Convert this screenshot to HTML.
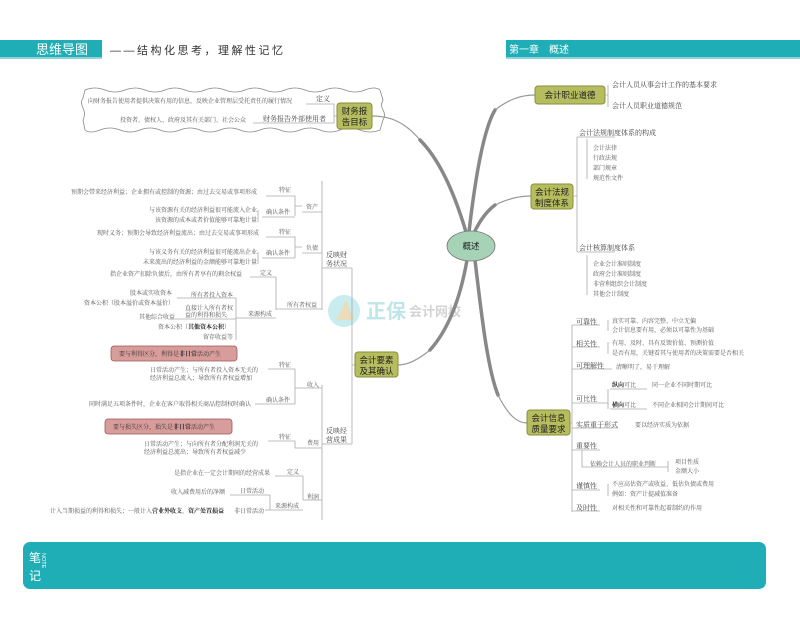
<!DOCTYPE html>
<html><head><meta charset="utf-8"><style>
html,body{margin:0;padding:0;background:#fff;}
svg{display:block;font-family:"Liberation Serif","Noto Serif CJK SC",serif;}
.s{font-size:6px;fill:#555;}
.m{font-size:7px;fill:#444;}
.h{font-family:"Liberation Sans","Noto Sans CJK SC",sans-serif;font-size:8.5px;fill:#222;}
.l{stroke:#aaa;stroke-width:0.8;fill:none;}
.b{fill:#b6bd5e;stroke:#8a8f3c;stroke-width:1;}
.br{stroke:#888;stroke-width:3.5;fill:none;stroke-linecap:round;}
.bt{stroke:#999;stroke-width:1.2;fill:none;}
</style></head><body>
<svg width="800" height="617" viewBox="0 0 800 617" xmlns="http://www.w3.org/2000/svg">
<!-- headers -->
<rect x="0" y="40" width="102" height="18" fill="#20aeb6"/>
<rect x="0" y="57" width="102" height="2" fill="#8fd3d6"/>
<text x="36" y="54" style="font-family:'Liberation Sans','Noto Sans CJK SC',sans-serif;font-size:13px;fill:#fff">思维导图</text>
<text x="110" y="54" style="font-family:'Liberation Sans','Noto Sans CJK SC',sans-serif;font-size:11px;fill:#333;letter-spacing:2.5px">——结构化思考，理解性记忆</text>
<rect x="506" y="40" width="294" height="18" fill="#20aeb6"/>
<rect x="506" y="57" width="294" height="2" fill="#8fd3d6"/>
<text x="509" y="53" style="font-family:'Liberation Sans','Noto Sans CJK SC',sans-serif;font-size:10px;fill:#fff">第一章　概述</text>

<!-- watermark -->
<circle cx="344" cy="311" r="16" fill="#c9ecee"/>
<path d="M336 320 L346 300 L354 320 Z" fill="#f3d9b0" opacity="0.8"/>
<text x="366" y="318" style="font-family:'Liberation Sans','Noto Sans CJK SC',sans-serif;font-size:20px;font-weight:bold;fill:#bfe6e8">正保</text>
<text x="409" y="316" style="font-family:'Liberation Sans','Noto Sans CJK SC',sans-serif;font-size:13px;font-weight:bold;fill:#d4d4d4">会计网校</text>

<!-- branches from center (tapered: thick part near center, thin near node) -->
<path class="bt" d="M420 140 C405 122 390 116 372 116"/>
<path class="br" d="M466 232 C455 195 440 160 420 140"/>
<path class="bt" d="M495 110 C508 100 520 95 535 95"/>
<path class="br" d="M469 232 C475 180 483 130 495 110"/>
<path class="bt" d="M495 205 C510 198 520 196 531 196"/>
<path class="br" d="M474 233 C480 220 487 211 495 205"/>
<path class="bt" d="M430 350 C418 360 408 365 398 365"/>
<path class="br" d="M467 260 C460 300 448 330 430 350"/>
<path class="bt" d="M498 395 C508 415 517 423 527 423"/>
<path class="br" d="M475 260 C482 320 488 370 498 395"/>
<ellipse cx="471" cy="246" rx="24" ry="15" fill="#a6d3b6" stroke="#777" stroke-width="0.8"/>
<text x="471" y="249" text-anchor="middle" class="h">概述</text>

<!-- wavy box -->
<path d="M85 90 q10 -4 20 0 t20 0 t20 0 t20 0 t20 0 t20 0 t20 0 t20 0 t20 0 t20 0 t20 0 t20 0 t20 0 t20 0 t15 0 l3 10 q-3 5 0 10 t0 10 l-3 10 q-10 4 -20 0 t-20 0 t-20 0 t-20 0 t-20 0 t-20 0 t-20 0 t-20 0 t-20 0 t-20 0 t-20 0 t-20 0 t-20 0 t-20 0 t-15 0 l-2 -10 q3 -6 0 -12 t0 -10 z" fill="none" stroke="#888" stroke-width="0.8"/>
<text x="88" y="103" class="s">向财务报告使用者提供决策有用的信息，反映企业管理层受托责任的履行情况</text>
<text x="316" y="101" class="m">定义</text>
<text x="120" y="122" class="s">投资者、债权人、政府及其有关部门、社会公众</text>
<text x="263" y="121" class="m">财务报告外部使用者</text>
<path class="l" d="M306 104 H334 V116 M253 123 H334 V116 M334 116 H337"/>
<rect class="b" x="337" y="103" width="35" height="26" rx="3"/>
<text x="354.5" y="114" text-anchor="middle" class="h">财务报</text>
<text x="354.5" y="125" text-anchor="middle" class="h">告目标</text>

<!-- assets -->
<text x="71" y="194" class="s">预期会带来经济利益；企业拥有或控制的资源；由过去交易或事项形成</text>
<text x="279" y="192" class="s">特征</text>
<text x="257" y="212" text-anchor="end" class="s">与该资源有关的经济利益很可能流入企业</text>
<text x="257" y="222" text-anchor="end" class="s">该资源的成本或者价值能够可靠地计量</text>
<text x="266" y="214" class="s">确认条件</text>
<text x="306" y="209" class="s">资产</text>
<text x="97" y="235" class="s">现时义务；预期会导致经济利益流出；由过去交易或事项形成</text>
<text x="279" y="234" class="s">特征</text>
<text x="257" y="254" text-anchor="end" class="s">与该义务有关的经济利益很可能流出企业</text>
<text x="257" y="264" text-anchor="end" class="s">未来流出的经济利益的金额能够可靠地计量</text>
<text x="266" y="255" class="s">确认条件</text>
<text x="306" y="250" class="s">负债</text>
<text x="326" y="257" class="m">反映财</text>
<text x="326" y="266" class="m">务状况</text>
<path class="l" d="M266 196 H295 V216 M262 217 H295 M295 206 H302 M302 212 H322 M266 237 H295 V258 M262 258 H295 M295 247 H302 M302 253 H322 M322 181 V310 M322 268 H352"/>
<path class="l" d="M258 210 v12 M258 252 v12"/>

<!-- equity -->
<text x="110" y="276" class="s">指企业资产扣除负债后，由所有者享有的剩余权益</text>
<text x="260" y="275" class="s">定义</text>
<text x="130" y="295" class="s">股本或实收资本</text>
<text x="191" y="297" class="s">所有者投入资本</text>
<text x="84" y="305" class="s">资本公积（股本溢价或资本溢价）</text>
<text x="185" y="310" class="s">直接计入所有者权</text>
<text x="185" y="317" class="s">益的利得和损失</text>
<text x="139" y="319" class="s">其他综合收益</text>
<text x="248" y="316" class="s">来源构成</text>
<text x="287" y="307" class="s">所有者权益</text>
<text x="158" y="329" class="s">资本公积（<tspan font-weight="bold" fill="#222">其他资本公积</tspan>）</text>
<text x="203" y="339" class="s">留存收益等</text>
<path class="l" d="M250 277 H276 V310 M245 318 H276 M276 309 H322 M177 298 H236 V340 M175 319 H236 M236 318 H245"/>

<!-- callouts -->
<rect x="111" y="346" width="126" height="15" rx="3" fill="#d89c9a" stroke="#9a5a58" stroke-width="0.8"/>
<text x="119" y="356" class="s" style="fill:#333">要与利得区分，利得是<tspan font-weight="bold">非日常</tspan>活动产生</text>
<rect x="105" y="419" width="127" height="15" rx="3" fill="#d89c9a" stroke="#9a5a58" stroke-width="0.8"/>
<text x="113" y="429" class="s" style="fill:#333">要与损失区分，损失是<tspan font-weight="bold">非日常</tspan>活动产生</text>

<!-- income -->
<text x="150" y="372" class="s">日常活动产生；与所有者投入资本无关的</text>
<text x="150" y="380" class="s">经济利益总流入；导致所有者权益增加</text>
<text x="279" y="367" class="s">特征</text>
<text x="307" y="387" class="s">收入</text>
<text x="89" y="406" class="s">同时满足五项条件时，企业在客户取得相关商品控制权时确认</text>
<text x="266" y="402" class="s">确认条件</text>
<text x="144" y="446" class="s">日常活动产生；与向所有者分配利润无关的</text>
<text x="144" y="454" class="s">经济利益总流出；导致所有者权益减少</text>
<text x="279" y="439" class="s">特征</text>
<text x="307" y="445" class="s">费用</text>
<text x="326" y="433" class="m">反映经</text>
<text x="326" y="442" class="m">营成果</text>
<text x="174" y="475" class="s">是指企业在一定会计期间的经营成果</text>
<text x="287" y="474" class="s">定义</text>
<text x="171" y="494" class="s">收入减费用后的净额</text>
<text x="240" y="493" class="s">日常活动</text>
<text x="307" y="499" class="s">利润</text>
<text x="275" y="508" class="s">来源构成</text>
<text x="50" y="513" class="s">计入当期损益的利得和损失；一般计入<tspan font-weight="bold" fill="#222">营业外收支</tspan>，<tspan font-weight="bold" fill="#222">资产处置损益</tspan></text>
<text x="234" y="513" class="s">非日常活动</text>
<path class="l" d="M268 369 H295 V404 M255 404 H295 M295 388 H322 M268 441 H295 V448 H322 M275 476 H303 V500 M265 510 H303 M303 500 H322 M230 495 H270 V510 M322 385 V520 M322 444 H352 M352 268 V444 M352 365 H355"/>

<rect class="b" x="355" y="352" width="43" height="25" rx="3"/>
<text x="376.5" y="363" text-anchor="middle" class="h">会计要素</text>
<text x="376.5" y="374" text-anchor="middle" class="h">及其确认</text>

<!-- right: ethics -->
<rect class="b" x="535" y="86" width="70" height="18" rx="3"/>
<text x="570" y="98" text-anchor="middle" class="h">会计职业道德</text>
<path class="l" d="M605 95 H608 M608 85 V107"/>
<text x="612" y="87" class="m">会计人员从事会计工作的基本要求</text>
<text x="612" y="108" class="m">会计人员职业道德规范</text>

<!-- regulations -->
<rect class="b" x="531" y="184" width="42" height="25" rx="3"/>
<text x="552" y="195" text-anchor="middle" class="h">会计法规</text>
<text x="552" y="206" text-anchor="middle" class="h">制度体系</text>
<path class="l" d="M573 196 H577 M577 137 V252 M577 137 H615 M577 252 H615 M587 139 V179 M587 255 V295"/>
<text x="579" y="135" class="m">会计法规制度体系的构成</text>
<text x="593" y="150" class="s">会计法律</text>
<text x="593" y="160" class="s">行政法规</text>
<text x="593" y="170" class="s">部门规章</text>
<text x="593" y="180" class="s">规范性文件</text>
<text x="579" y="250" class="m">会计核算制度体系</text>
<text x="593" y="266" class="s">企业会计准则制度</text>
<text x="593" y="276" class="s">政府会计准则制度</text>
<text x="593" y="286" class="s">非营利组织会计制度</text>
<text x="593" y="296" class="s">其他会计制度</text>

<!-- quality -->
<rect class="b" x="527" y="410" width="43" height="25" rx="3"/>
<text x="548.5" y="421" text-anchor="middle" class="h">会计信息</text>
<text x="548.5" y="432" text-anchor="middle" class="h">质量要求</text>
<path class="l" d="M570 423 H572 M572 325 V512 M572 325 H600 M572 347 H600 M572 369 H612 M572 403 H600 M600 403 H608 M572 428 H618 M572 450 H600 M572 490 H600 M572 511 H600 M608 320 V331 M608 342 V354 M610 389 H647 M610 409 H647 M608 389 V409 M582 450 V467 H668 M668 461 V472 M608 484 V496"/>
<text x="576" y="324" class="m">可靠性</text>
<text x="612" y="323" class="s">真实可靠、内容完整、中立无偏</text>
<text x="612" y="332" class="s">会计信息要有用，必须以可靠性为基础</text>
<text x="576" y="346" class="m">相关性</text>
<text x="612" y="345" class="s">有用、及时、具有反馈价值、预测价值</text>
<text x="612" y="355" class="s">是否有用，关键看其与使用者的决策需要是否相关</text>
<text x="576" y="368" class="m">可理解性</text>
<text x="616" y="369" class="s">清晰明了，易于理解</text>
<text x="612" y="387" class="s"><tspan font-weight="bold" fill="#222">纵向</tspan>可比</text>
<text x="652" y="387" class="s">同一企业不同时期可比</text>
<text x="612" y="407" class="s"><tspan font-weight="bold" fill="#222">横向</tspan>可比</text>
<text x="652" y="407" class="s">不同企业相同会计期间可比</text>
<text x="576" y="401" class="m">可比性</text>
<text x="576" y="427" class="m">实质重于形式</text>
<text x="635" y="427" class="s">要以经济实质为依据</text>
<text x="576" y="448" class="m">重要性</text>
<text x="590" y="466" class="s">依赖会计人员的职业判断</text>
<text x="675" y="464" class="s">项目性质</text>
<text x="675" y="473" class="s">金额大小</text>
<text x="576" y="488" class="m">谨慎性</text>
<text x="612" y="486" class="s">不应高估资产或收益、低估负债或费用</text>
<text x="612" y="496" class="s">例如：资产计提减值准备</text>
<text x="576" y="510" class="m">及时性</text>
<text x="612" y="510" class="s">对相关性和可靠性起着制约的作用</text>

<!-- notes band -->
<rect x="23" y="542" width="743" height="47" rx="7" fill="#20aeb6"/>
<text x="29" y="562" style="font-family:'Liberation Sans','Noto Sans CJK SC',sans-serif;font-size:12px;fill:#fff">笔</text>
<text x="29" y="580" style="font-family:'Liberation Sans','Noto Sans CJK SC',sans-serif;font-size:12px;fill:#fff">记</text>
<text x="0" y="0" transform="translate(42 553) rotate(90)" style="font-family:'Liberation Sans',sans-serif;font-size:5.5px;fill:#fff">NOTE</text>
</svg>
</body></html>
